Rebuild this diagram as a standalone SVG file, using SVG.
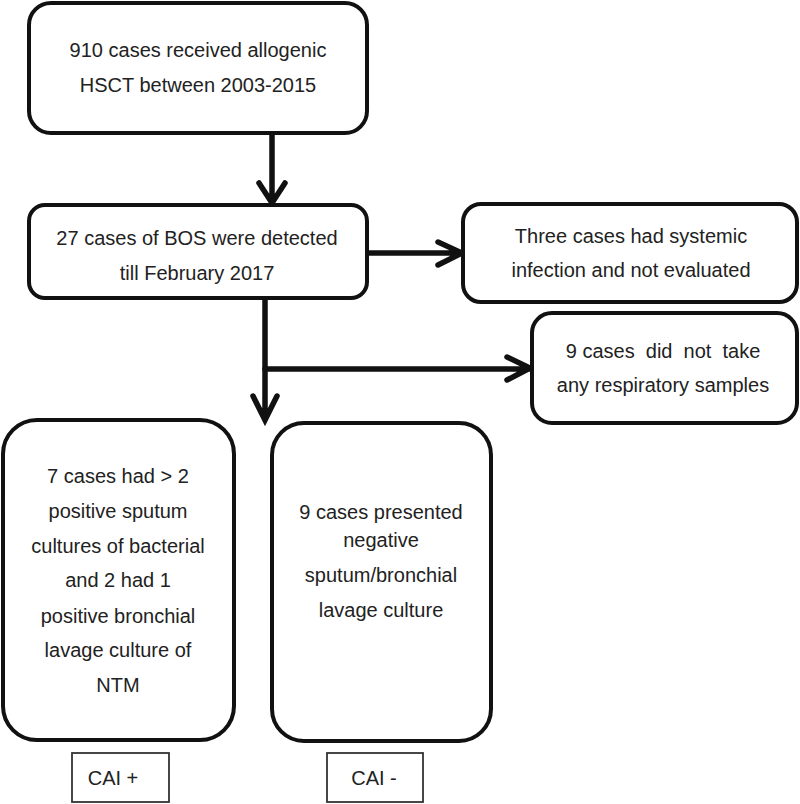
<svg xmlns="http://www.w3.org/2000/svg" width="800" height="804" viewBox="0 0 800 804">
<style>
.box{fill:#fff;stroke:#111;stroke-width:4}
.lbl{fill:#fff;stroke:#333;stroke-width:1.8}
.t{font-family:"Liberation Sans",Arial,sans-serif;font-size:20px;fill:#222;text-anchor:middle;white-space:pre}
.c{fill:none;stroke:#111;stroke-width:5.5;stroke-linecap:round;stroke-linejoin:miter}
</style>
<rect width="800" height="804" fill="#fff"/>
<g id="connectors">
<path class="c" d="M272,133 V203 M259,183 L272,203 L285,183"/>
<path class="c" d="M367,253 H462 M438,242 L462,253 L438,265"/>
<path class="c" d="M265,298 V420 M253,396 L265,420 L277,396"/>
<path class="c" d="M265,369 H530 M507,357 L530,368 L507,380"/>
</g>
<g id="n1">
<rect class="box" x="29" y="3" width="338" height="130" rx="22"/>
<text class="t" x="198" y="57">910 cases received allogenic</text>
<text class="t" x="198" y="92">HSCT between 2003-2015</text>
</g>
<g id="n2">
<rect class="box" x="29" y="205" width="338" height="93" rx="16"/>
<text class="t" x="197" y="245">27 cases of BOS were detected</text>
<text class="t" x="197" y="280">till February 2017</text>
</g>
<g id="n3">
<rect class="box" x="463" y="204" width="334" height="98" rx="18"/>
<text class="t" x="631" y="243">Three cases had systemic</text>
<text class="t" x="631" y="277">infection and not evaluated</text>
</g>
<g id="n4">
<rect class="box" x="532" y="313" width="265" height="110" rx="20"/>
<text class="t" x="663" y="358">9 cases  did  not  take</text>
<text class="t" x="663" y="392">any respiratory samples</text>
</g>
<g id="n5">
<rect class="box" x="3" y="420" width="231" height="320" rx="34"/>
<text class="t" x="118" y="483">7 cases had &gt; 2</text>
<text class="t" x="118" y="518">positive sputum</text>
<text class="t" x="118" y="553">cultures of bacterial</text>
<text class="t" x="118" y="587">and 2 had 1</text>
<text class="t" x="118" y="623">positive bronchial</text>
<text class="t" x="118" y="657">lavage culture of</text>
<text class="t" x="118" y="692">NTM</text>
</g>
<g id="n6">
<rect class="box" x="272" y="423" width="219" height="318" rx="32"/>
<text class="t" x="381" y="519">9 cases presented</text>
<text class="t" x="381" y="547">negative</text>
<text class="t" x="381" y="582">sputum/bronchial</text>
<text class="t" x="381" y="617">lavage culture</text>
</g>
<g id="n7">
<rect class="lbl" x="72" y="753" width="97" height="49"/>
<text class="t" x="113" y="785">CAI +</text>
</g>
<g id="n8">
<rect class="lbl" x="327" y="753" width="96" height="49"/>
<text class="t" x="374" y="785">CAI -</text>
</g>
</svg>
